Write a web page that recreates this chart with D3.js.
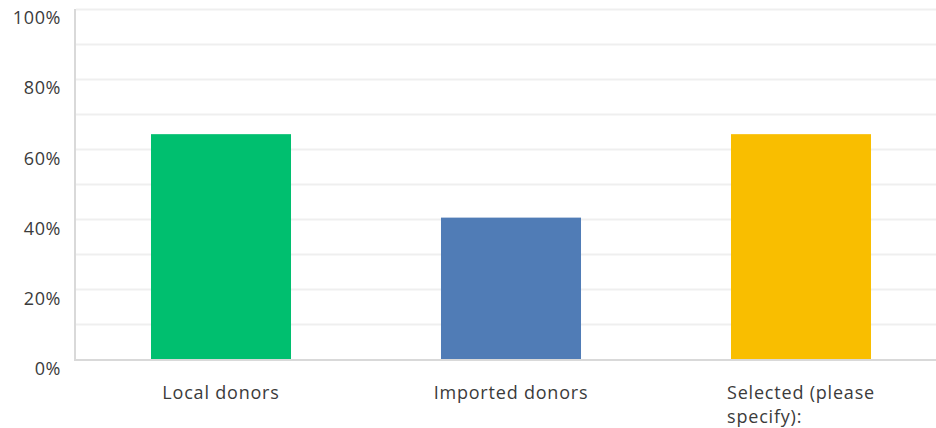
<!DOCTYPE html>
<html>
<head>
<meta charset="utf-8">
<script src="https://cdn.jsdelivr.net/npm/d3@7"></script>
<style>
  html, body { margin: 0; padding: 0; background: #fff; }
  svg { display: block; }
  text { font-family: "Open Sans", "Noto Sans", sans-serif; fill: #3b3b3b; }
</style>
</head>
<body>
<svg id="chart" width="936" height="428"></svg>
<script>
// Share of respondents per donor source (%)
const categories = ["Local donors", "Imported donors", "Selected (please specify):"];
const values = [64.29, 40.48, 64.29];
const barColors = ["#00BF6F", "#507CB6", "#F9BE00"];
const gridTicks = [0, 10, 20, 30, 40, 50, 60, 70, 80, 90, 100];
const labelTicks = [0, 20, 40, 60, 80, 100];
// Category labels broken across lines
const categoryLines = [["Local donors"], ["Imported donors"], ["Selected (please", "specify):"]];

const svg = d3.select("#chart");
const W = 936;
const m = { left: 76, top: 9, bottom: 359.5 };

const x = d3.scaleBand()
  .domain(categories)
  .range([m.left, m.left + 870])
  .paddingInner(0.5172)
  .paddingOuter(0.2586);

const y = d3.scaleLinear().domain([0, 100]).range([m.bottom, m.top]);

// horizontal gridlines
svg.append("g").selectAll("line")
  .data(gridTicks.filter(d => d > 0))
  .join("line")
  .attr("x1", m.left).attr("x2", W)
  .attr("y1", d => Math.round(y(d)) + 0.5)
  .attr("y2", d => Math.round(y(d)) + 0.5)
  .attr("stroke", "#efefef")
  .attr("stroke-width", 2);

// bars
svg.append("g").selectAll("rect")
  .data(values)
  .join("rect")
  .attr("x", (d, i) => x(categories[i]))
  .attr("width", x.bandwidth())
  .attr("y", d => y(d))
  .attr("height", d => y(0) - y(d))
  .attr("fill", (d, i) => barColors[i]);

// left axis line and baseline
svg.append("line")
  .attr("x1", 75).attr("x2", 75)
  .attr("y1", m.top).attr("y2", m.bottom + 1)
  .attr("stroke", "#d9d9d9").attr("stroke-width", 2);
svg.append("line")
  .attr("x1", 74).attr("x2", W)
  .attr("y1", m.bottom + 0.5).attr("y2", m.bottom + 0.5)
  .attr("stroke", "#d9d9d9").attr("stroke-width", 2);

// y tick labels
svg.append("g").selectAll("text")
  .data(labelTicks)
  .join("text")
  .attr("x", 61)
  .attr("y", d => y(d) + 9)
  .attr("dy", "0.35em")
  .attr("text-anchor", "end")
  .style("font-size", "18px")
  .style("letter-spacing", "0.6px")
  .text(d => d + "%");

// category labels: lines left-aligned, block centred under each bar
const catG = svg.append("g");
categories.forEach((c, i) => {
  const cx = x(c) + x.bandwidth() / 2;
  const t = catG.append("text")
    .style("font-size", "18px")
    .style("letter-spacing", "0.8px");
  categoryLines[i].forEach((ln, j) => {
    t.append("tspan").attr("y", 399 + j * 24).text(ln);
  });
  const widths = [];
  t.selectAll("tspan").each(function () { widths.push(this.getComputedTextLength()); });
  const maxW = d3.max(widths);
  t.selectAll("tspan").attr("x", cx - maxW / 2);
});
</script>
</body>
</html>
